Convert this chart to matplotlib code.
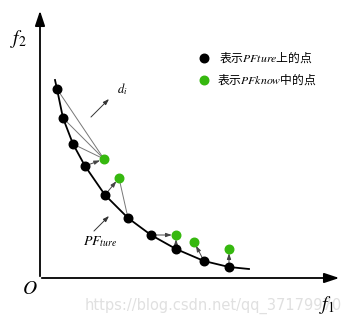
import matplotlib
matplotlib.use("Agg")
import matplotlib.pyplot as plt

plt.rcParams['font.family'] = ['Noto Sans CJK SC', 'DejaVu Sans']
plt.rcParams['mathtext.fontset'] = 'stix'

# schematic coordinates (image pixel space, y grows downward)
pf_true_x = [57, 63, 73, 85, 105, 128, 151, 176, 204, 229]
pf_true_y = [89, 118, 144, 166, 195, 218, 235, 249, 261, 267]
curve_x = [55] + pf_true_x + [249]
curve_y = [80] + pf_true_y + [269]

pf_know_x = [104, 119, 176, 194, 229]
pf_know_y = [159, 178, 235, 242, 249]

# (known point index, true point index, arrow?)
links = [(0, 0, False), (0, 1, False), (0, 2, False), (0, 3, True),
         (1, 4, True), (1, 5, False),
         (2, 6, True), (2, 7, True),
         (3, 8, True),
         (4, 9, True)]

legend_labels = ['表示$\\mathit{PFture}$上的点', '表示$\\mathit{PFknow}$中的点']
green = '#36b80f'


def main():
    fig = plt.figure(figsize=(3.51, 3.24), dpi=100)
    ax = fig.add_axes([0, 0, 1, 1])
    ax.set_xlim(0, 351)
    ax.set_ylim(324, 0)
    ax.axis('off')

    # watermark (behind everything)
    ax.text(342, 306, 'https://blog.csdn.net/qq_37179970', fontsize=10.5,
            color='#e0e0e0', ha='right', va='center', family='DejaVu Sans', zorder=0)

    # coordinate axes
    ax.annotate('', xy=(40, 8), xytext=(40, 279),
                arrowprops=dict(arrowstyle='-|>,head_length=0.9,head_width=0.3',
                                lw=1.3, color='black'))
    ax.annotate('', xy=(342, 278), xytext=(39, 278),
                arrowprops=dict(arrowstyle='-|>,head_length=0.9,head_width=0.3',
                                lw=1.3, color='black'))
    ax.text(18, 39, '$f_2$', fontsize=14, ha='center', va='center')
    ax.text(30, 288, '$O$', fontsize=14, ha='center', va='center')
    ax.text(327, 305, '$f_1$', fontsize=14, ha='center', va='center', zorder=5)

    # links between known and true points
    for k, t, arrow in links:
        x0, y0 = pf_true_x[t], pf_true_y[t]
        x1, y1 = pf_know_x[k], pf_know_y[k]
        if arrow:
            ax.annotate('', xy=(x1, y1), xytext=(x0, y0),
                        arrowprops=dict(arrowstyle='-|>,head_length=0.35,head_width=0.12',
                                        lw=0.7, color='#444444',
                                        shrinkA=2, shrinkB=3))
        else:
            ax.plot([x0, x1], [y0, y1], color='#777777', lw=0.7, zorder=1)

    # true Pareto front
    ax.plot(curve_x, curve_y, color='black', lw=1.3, zorder=2)
    ax.scatter(pf_true_x, pf_true_y, s=38, color='black', zorder=3)
    ax.scatter(pf_know_x, pf_know_y, s=38, color=green, zorder=3)

    # annotations
    ax.annotate('', xy=(111, 97), xytext=(89, 119),
                arrowprops=dict(arrowstyle='-|>,head_length=0.35,head_width=0.12',
                                lw=0.7, color='#333333'))
    ax.text(122, 89, '$d_i$', fontsize=9, ha='center', va='center')
    ax.annotate('', xy=(111, 214), xytext=(92, 233),
                arrowprops=dict(arrowstyle='-|>,head_length=0.35,head_width=0.12',
                                lw=0.7, color='#333333'))
    ax.text(100, 242, '$PF_{ture}$', fontsize=10, ha='center', va='center')

    # legend
    ax.scatter([204], [58], s=38, color='black')
    ax.scatter([204], [80], s=38, color=green)
    ax.text(219, 58, legend_labels[0], fontsize=8.5, ha='left', va='center')
    ax.text(217, 80, legend_labels[1], fontsize=8.5, ha='left', va='center')

    fig.savefig('out.png', dpi=100)


if __name__ == "__main__":
    main()
